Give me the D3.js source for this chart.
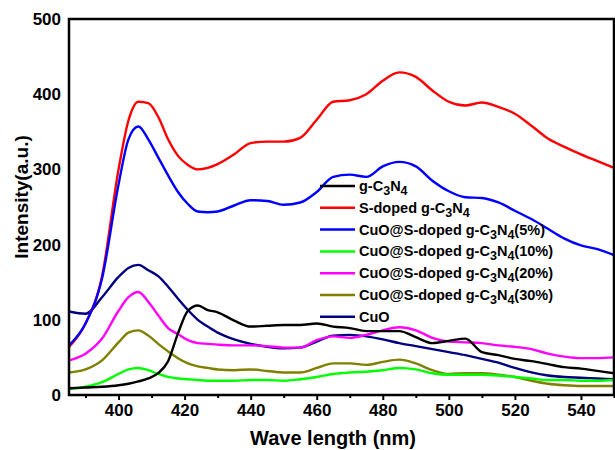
<!DOCTYPE html>
<html>
<head>
<meta charset="utf-8">
<script src="https://cdn.jsdelivr.net/npm/d3@7"></script>
<style>
  html, body { margin: 0; padding: 0; background: #fff; }
  svg { display: block; font-family: Arial, "Liberation Sans", sans-serif; }
</style>
</head>
<body>
<svg id="chart" width="615" height="450"></svg>
<script>
// ---- data ----
const wavelengths = [385,390,395,400,403,406,409,412,415,418,421,424,427,430,435,440,445,450,455,460,465,470,475,480,485,490,495,500,505,510,515,520,525,530,535,540,545,550];

const gC3N4 =        [9,10,11,13,15,18,22,29,45,82,112,119,113,110,99,91,92,93,93,95,91,89,85,85,85,77,69,72,75,57,53,48,45,41,37,35,32,29];
const sDoped =       [64,95,158,300,365,390,388,370,340,318,306,300,302,307,320,335,337,337,342,366,390,392,400,418,429,423,405,390,385,389,383,374,358,341,330,320,311,302];
const cuo5 =         [66,95,155,280,340,357,340,316,292,270,254,244,243,244,252,259,258,253,256,270,290,293,290,304,310,304,285,271,263,262,256,245,234,221,208,199,194,186];
const cuo10 =        [8,11,17,28,34,36,33,28,24,22,21,20,19,19,19,20,20,19,21,24,28,30,31,33,36,34,29,27,27,27,26,24,22,20,20,19,19,20];
const cuo20 =        [46,55,75,112,130,137,124,106,89,81,73,69,68,67,66,66,65,63,63,73,78,76,80,86,90,86,76,71,70,69,66,64,61,55,51,49,49,50];
const cuo30 =        [30,34,46,70,83,86,79,68,58,49,42,38,36,34,33,34,32,30,30,36,42,42,40,44,47,42,33,28,29,29,27,24,19,15,13,12,12,12];
const cuoOnly =      [111,108,130,157,169,173,166,158,144,128,113,100,91,83,74,68,64,62,63,71,79,80,78,74,69,65,61,57,53,48,43,36,30,26,24,23,22,21];

const seriesNames = ["g-C3N4","S-doped g-C3N4","CuO@S-doped g-C3N4(5%)","CuO@S-doped g-C3N4(10%)","CuO@S-doped g-C3N4(20%)","CuO@S-doped g-C3N4(30%)","CuO"];
const seriesValues = [gC3N4, sDoped, cuo5, cuo10, cuo20, cuo30, cuoOnly];
const seriesColors = ["#000000","#ff0000","#0000ff","#00ff00","#ff00ff","#808000","#000080"];

const xTicks = [400,420,440,460,480,500,520,540];
const xMinorTicks = [390,410,430,450,470,490,510,530,550];
const yTicks = [0,100,200,300,400,500];

// ---- layout ----
const svg = d3.select("#chart");
const pL = 69, pR = 614, pT = 19, pB = 395;

const x = d3.scaleLinear().domain([385, 550]).range([pL, pR]);
const y = d3.scaleLinear().domain([0, 500]).range([pB, pT]);

svg.append("defs").append("clipPath").attr("id","clip")
  .append("rect").attr("x", pL).attr("y", pT).attr("width", pR-pL).attr("height", pB-pT);

// lines
const line = d3.line().x((d,i)=>x(wavelengths[i])).y(d=>y(d)).curve(d3.curveMonotoneX);
const g = svg.append("g").attr("clip-path","url(#clip)");
const order = [6,1,2,4,5,3,0];
order.forEach(k => {
  g.append("path").datum(seriesValues[k])
    .attr("d", line).attr("fill","none")
    .attr("stroke", seriesColors[k]).attr("stroke-width", 2.4)
    .attr("stroke-linejoin","round");
});

// x axis
const xAxis = svg.append("g").attr("transform", `translate(0,${pB})`)
  .call(d3.axisBottom(x).tickValues(xTicks).tickSize(5).tickPadding(4).tickFormat(d3.format("d")));
xAxis.select(".domain").remove();
xAxis.selectAll("line").attr("stroke","#000").attr("stroke-width",2);
xAxis.selectAll("text").attr("font-size",17).attr("font-weight","bold").attr("fill","#000");
const xMinor = svg.append("g").attr("transform", `translate(0,${pB})`)
  .call(d3.axisBottom(x).tickValues(xMinorTicks).tickSize(3).tickFormat(""));
xMinor.select(".domain").remove();
xMinor.selectAll("line").attr("stroke","#000").attr("stroke-width",2);

// y axis
const yAxis = svg.append("g").attr("transform", `translate(${pL},0)`)
  .call(d3.axisLeft(y).tickValues(yTicks).tickSize(0).tickPadding(8).tickFormat(d3.format("d")));
yAxis.select(".domain").remove();
yAxis.selectAll("text").attr("font-size",17).attr("font-weight","bold").attr("fill","#000");

// frame
svg.append("rect").attr("x", pL).attr("y", pT).attr("width", pR-pL).attr("height", pB-pT)
  .attr("fill","none").attr("stroke","#000").attr("stroke-width",2.5);

// axis titles
svg.append("text").attr("x", 333).attr("y", 445).attr("text-anchor","middle")
  .attr("font-size",20).attr("font-weight","bold").text("Wave length (nm)");
svg.append("text").attr("transform","translate(28,197) rotate(-90)").attr("text-anchor","middle")
  .attr("font-size",19).attr("font-weight","bold").text("Intensity(a.u.)");

// legend
const legend = svg.append("g");
const legY0 = 186, legDy = 21.8;
seriesNames.forEach((name, i) => {
  const yy = legY0 + i*legDy;
  legend.append("line").attr("x1",320).attr("x2",355).attr("y1",yy).attr("y2",yy)
    .attr("stroke", seriesColors[i]).attr("stroke-width",2.5);
  const t = legend.append("text").attr("x",359).attr("y",yy+5)
    .attr("font-size",14.5).attr("font-weight","bold").attr("fill","#000");
  // tokens: normal text or subscript digits following C / N
  const tokens = [];
  name.split(/(C3N4)/).forEach(p => {
    if (p === "C3N4") {
      tokens.push({s:"C"}, {s:"3", sub:true}, {s:"N"}, {s:"4", sub:true});
    } else if (p.length) tokens.push({s:p});
  });
  let shifted = false;
  tokens.forEach(tok => {
    const ts = t.append("tspan").text(tok.s);
    if (tok.sub && !shifted) { ts.attr("dy", 4).attr("font-size", 12.5); shifted = true; }
    else if (tok.sub) { ts.attr("font-size", 12.5); }
    else if (shifted) { ts.attr("dy", -4); shifted = false; }
  });
});
</script>
</body>
</html>
